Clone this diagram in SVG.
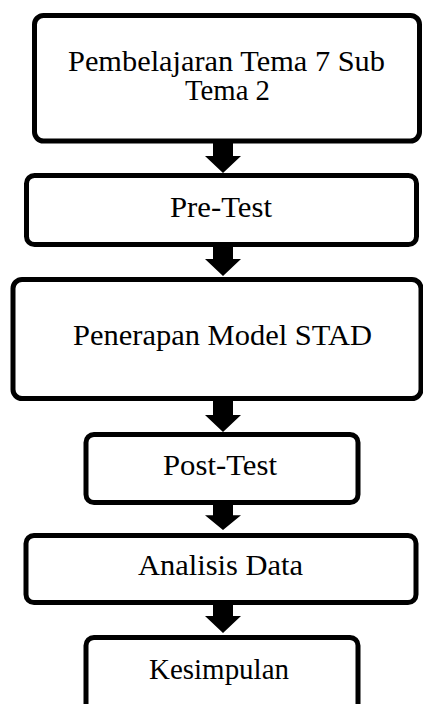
<svg xmlns="http://www.w3.org/2000/svg" width="423" height="704" viewBox="0 0 423 704">
  <style>
    .box { fill: #ffffff; stroke: #000000; stroke-width: 5; }
    .lbl { font-family: "Liberation Serif", "Times New Roman", serif; font-size: 29px; fill: #000000; text-anchor: middle; }
    .arrow { fill: #000000; stroke: none; }
  </style>
  <defs>
    <path id="arr" d="M-10,0 H10 V14 H18 L0,31 L-18,14 H-10 Z"/>
  </defs>
  <rect x="0" y="0" width="423" height="704" fill="#ffffff"/>
  <g id="n1">
    <rect class="box" x="34.5" y="15.5" width="385" height="125.5" rx="9"/>
    <text class="lbl" x="226.5" y="71" font-size="28" textLength="317" lengthAdjust="spacingAndGlyphs">Pembelajaran Tema 7 Sub</text>
    <text class="lbl" x="227.5" y="100" font-size="28" textLength="85" lengthAdjust="spacingAndGlyphs">Tema 2</text>
  </g>
  <g id="n2">
    <rect class="box" x="26.5" y="175.5" width="390" height="69" rx="8"/>
    <text class="lbl" x="221" y="217" textLength="102" lengthAdjust="spacingAndGlyphs">Pre-Test</text>
  </g>
  <g id="n3">
    <rect class="box" x="13" y="279.5" width="408" height="119" rx="9"/>
    <text class="lbl" x="222.5" y="345" textLength="299" lengthAdjust="spacingAndGlyphs">Penerapan Model STAD</text>
  </g>
  <g id="n4">
    <rect class="box" x="86" y="434.5" width="272" height="68" rx="8"/>
    <text class="lbl" x="220" y="475" textLength="114" lengthAdjust="spacingAndGlyphs">Post-Test</text>
  </g>
  <g id="n5">
    <rect class="box" x="26" y="535.5" width="390" height="67" rx="8"/>
    <text class="lbl" x="220.5" y="575" textLength="165" lengthAdjust="spacingAndGlyphs">Analisis Data</text>
  </g>
  <g id="n6">
    <rect class="box" x="86" y="637.5" width="272" height="75" rx="8"/>
    <text class="lbl" x="219" y="679" textLength="140" lengthAdjust="spacingAndGlyphs">Kesimpulan</text>
  </g>
  <g id="connectors">
    <use href="#arr" class="arrow" transform="translate(223,142)"/>
    <use href="#arr" class="arrow" transform="translate(223,245) scale(1,1)"/>
    <use href="#arr" class="arrow" transform="translate(223,401)"/>
    <use href="#arr" class="arrow" transform="translate(223,503) scale(1,0.87)"/>
    <use href="#arr" class="arrow" transform="translate(223,602)"/>
  </g>
</svg>
